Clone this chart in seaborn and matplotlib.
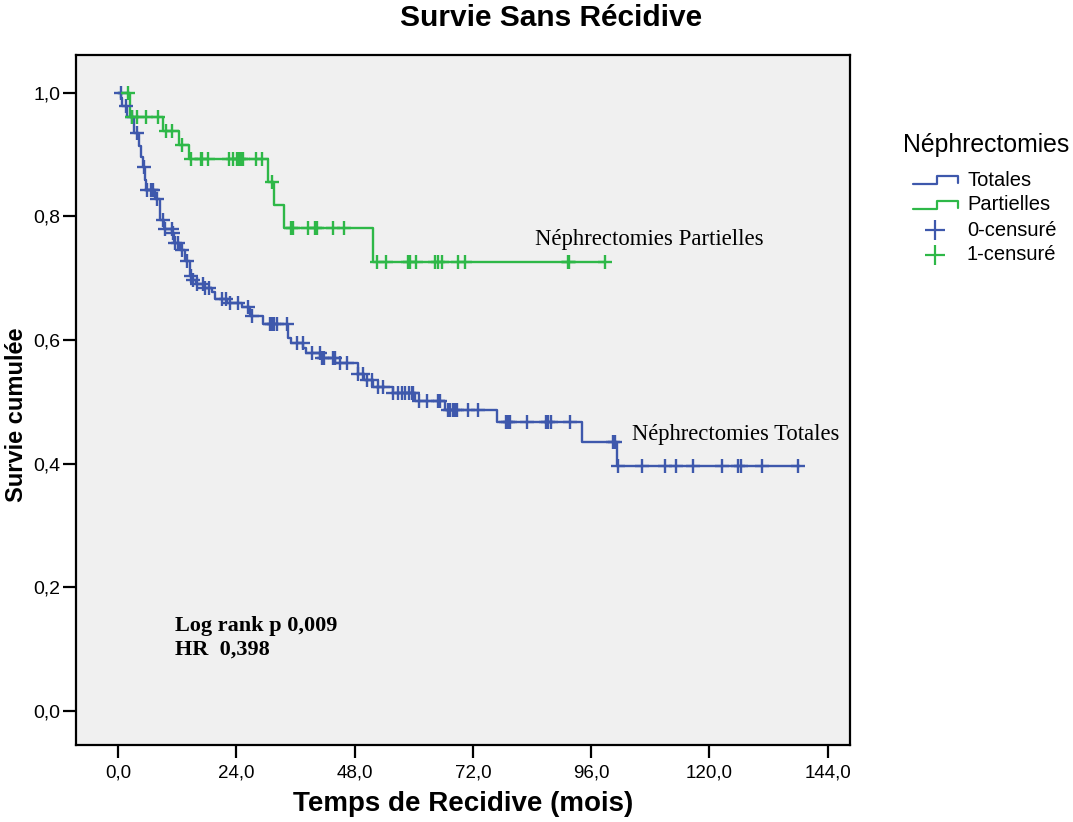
import numpy as np
import pandas as pd
import matplotlib
matplotlib.use("Agg")
import matplotlib.pyplot as plt
from matplotlib.lines import Line2D
from matplotlib import font_manager
import seaborn as sns

# ---------------- data ----------------
# Néphrectomies Totales : event times (months) and survival after each drop
totales_times = [0.61, 0.81, 1.93, 3.24, 4.26, 4.66, 5.07, 5.48, 5.78, 7.50,
                 8.52, 9.33, 11.05, 11.46, 12.57, 13.59, 14.60, 15.01, 15.82, 17.44,
                 19.06, 19.67, 22.11, 25.15, 26.77, 29.41, 34.58, 35.08, 37.62, 38.23,
                 41.07, 44.11, 48.67, 49.99, 51.71, 55.77, 60.23, 66.31, 76.86, 94.10,
                 101.20]
totales_surv = [0.992, 0.978, 0.960, 0.935, 0.914, 0.896, 0.880, 0.859, 0.843, 0.828,
                0.794, 0.780, 0.773, 0.757, 0.746, 0.728, 0.704, 0.697, 0.691, 0.684,
                0.677, 0.667, 0.660, 0.654, 0.639, 0.626, 0.604, 0.595, 0.587, 0.579,
                0.571, 0.563, 0.545, 0.536, 0.524, 0.515, 0.502, 0.487, 0.468, 0.435,
                0.396]
totales_end = 138.3
totales_censored = [0.55, 1.68, 2.84, 3.85, 5.20, 5.94, 6.63, 6.83, 7.16, 7.97,
                    9.19, 9.63, 10.89, 11.26, 11.66, 12.23, 12.92, 14.05, 14.74, 15.27,
                    16.08, 17.18, 17.64, 18.52, 21.03, 21.84, 22.71, 24.40, 26.42, 27.11,
                    30.83, 31.29, 31.64, 32.18, 34.21, 36.24, 37.46, 39.40, 40.97, 41.31,
                    41.78, 43.66, 44.01, 45.02, 46.50, 48.73, 49.62, 50.56, 51.45, 52.79,
                    53.68, 55.83, 56.84, 57.53, 58.20, 59.07, 59.56, 59.89, 61.10, 62.60,
                    64.83, 65.30, 66.98, 67.33, 67.88, 68.34, 68.81, 71.04, 73.07, 78.69,
                    79.16, 79.50, 83.01, 86.80, 87.27, 87.81, 91.67, 100.45, 100.80, 101.46,
                    106.21, 110.93, 113.16, 116.67, 122.55, 125.80, 126.49, 130.74, 137.96]

# Néphrectomies Partielles
partielles_times = [2.4, 9.2, 12.4, 14.5, 30.5, 31.6, 33.7, 51.7]
partielles_surv = [0.961, 0.9385, 0.915, 0.892, 0.8555, 0.818, 0.781, 0.7254]
partielles_end = 98.8
partielles_censored = [2.1, 2.8, 3.8, 5.6, 8.2, 9.7, 10.9, 12.9, 14.8, 16.8,
                       17.0, 18.2, 22.6, 23.3, 24.2, 24.6, 25.0, 25.3, 28.0, 29.3,
                       31.3, 35.1, 35.5, 38.6, 40.0, 40.3, 43.6, 45.8, 52.5, 54.3,
                       58.9, 59.2, 60.4, 64.3, 65.0, 65.8, 69.0, 70.4, 91.3, 91.6, 98.8]

x_ticks = [0, 24, 48, 72, 96, 120, 144]
x_tick_labels = ["0,0", "24,0", "48,0", "72,0", "96,0", "120,0", "144,0"]
y_ticks = [0.0, 0.2, 0.4, 0.6, 0.8, 1.0]
y_tick_labels = ["0,0", "0,2", "0,4", "0,6", "0,8", "1,0"]

legend_title = "Néphrectomies"
legend_labels = ["Totales", "Partielles", "0-censuré", "1-censuré"]

BLUE = "#3E58AC"
GREEN = "#2EB848"

# ---------------- style ----------------
sns.set_theme(style="white")
names = {f.name for f in font_manager.fontManager.ttflist}
SANS = "Liberation Sans" if "Liberation Sans" in names else "DejaVu Sans"
NARROW = "Liberation Sans Narrow" if "Liberation Sans Narrow" in names else SANS
SERIF = "Liberation Serif" if "Liberation Serif" in names else "DejaVu Serif"
plt.rcParams["font.family"] = [SANS, "DejaVu Sans"]
plt.rcParams["text.color"] = "black"
plt.rcParams["axes.labelcolor"] = "black"
plt.rcParams["xtick.color"] = "black"
plt.rcParams["ytick.color"] = "black"

W, H = 1073, 822
fig = plt.figure(figsize=(W / 100, H / 100), dpi=100)
fig.patch.set_facecolor("white")
L, R, T, B = 76, 850, 55, 745
ax = fig.add_axes([L / W, 1 - B / H, (R - L) / W, (B - T) / H])
ax.set_facecolor("#F0F0F0")


def km_frame(times, surv, end):
    t = [0.0] + list(times) + [end]
    s = [1.0] + list(surv) + [surv[-1]]
    return pd.DataFrame({"t": t, "s": s})


def censor_frame(times, surv, cens):
    t_arr = np.array([0.0] + list(times))
    s_arr = np.array([1.0] + list(surv))
    idx = np.searchsorted(t_arr, np.array(cens), side="right") - 1
    return pd.DataFrame({"t": cens, "s": s_arr[idx]})


df_tot = km_frame(totales_times, totales_surv, totales_end)
df_par = km_frame(partielles_times, partielles_surv, partielles_end)
cen_tot = censor_frame(totales_times, totales_surv, totales_censored)
cen_par = censor_frame(partielles_times, partielles_surv, partielles_censored)

sns.lineplot(data=df_tot, x="t", y="s", drawstyle="steps-post", color=BLUE,
             linewidth=1.7, estimator=None, sort=False, ax=ax, zorder=2)
sns.lineplot(data=df_par, x="t", y="s", drawstyle="steps-post", color=GREEN,
             linewidth=1.7, estimator=None, sort=False, ax=ax, zorder=2)
sns.scatterplot(data=cen_tot, x="t", y="s", marker="+", s=100, linewidth=1.7,
                color=BLUE, ax=ax, zorder=3, legend=False)
sns.scatterplot(data=cen_par, x="t", y="s", marker="+", s=100, linewidth=1.7,
                color=GREEN, ax=ax, zorder=3, legend=False)

# axes
ax.set_xlim(-8.5, 148.5)
ax.set_ylim(-0.055, 1.061)
ax.set_xticks(x_ticks)
ax.set_xticklabels(x_tick_labels, fontsize=13.5, family=[NARROW, "DejaVu Sans"])
ax.set_yticks(y_ticks)
ax.set_yticklabels(y_tick_labels, fontsize=14, family=[SANS, "DejaVu Sans"])
ax.tick_params(axis="both", direction="out", length=9.5, width=1.6, colors="black",
               bottom=True, left=True)
ax.tick_params(axis="y", pad=1.5)
ax.tick_params(axis="x", pad=4.5)
for sp in ax.spines.values():
    sp.set_visible(True)
    sp.set_color("black")
    sp.set_linewidth(1.6)
ax.grid(False)

ax.set_xlabel("Temps de Recidive (mois)", fontsize=20, fontweight="bold",
              family=[NARROW, "DejaVu Sans"])
ax.xaxis.set_label_coords(0.5, (B - 791) / (B - T))
ax.set_ylabel("Survie cumulée", fontsize=17, fontweight="bold",
              family=[SANS, "DejaVu Sans"])
ax.yaxis.set_label_coords((28 - L) / (R - L), (B - 415) / (B - T))

fig.text(551 / W, 1 - 18 / H, "Survie Sans Récidive", ha="center", va="center",
         fontsize=21.5, fontweight="bold", family=[SANS, "DejaVu Sans"])

# annotations
ax.text(84.6, 0.762, "Néphrectomies Partielles", fontsize=16.4, family=[SERIF, "DejaVu Serif"],
        ha="left", va="center")
ax.text(104.2, 0.448, "Néphrectomies Totales", fontsize=16.3, family=[SERIF, "DejaVu Serif"],
        ha="left", va="center")
ax.text(11.6, 0.137, "Log rank p 0,009", fontsize=16, fontweight="bold",
        family=[SERIF, "DejaVu Serif"], ha="left", va="center")
ax.text(11.6, 0.099, "HR  0,398", fontsize=16, fontweight="bold",
        family=[SERIF, "DejaVu Serif"], ha="left", va="center")

# legend (drawn in figure pixels)
def fx(px):
    return px / W


def fy(py):
    return 1 - py / H


fig.text(fx(903), fy(145), legend_title, fontsize=17.8, ha="left", va="center")
for py, col in [(180, BLUE), (205, GREEN)]:
    xs = [913, 937, 937, 958, 958]
    ys = [py + 4, py + 4, py - 4, py - 4, py + 3]
    fig.add_artist(Line2D([fx(v) for v in xs], [fy(v) for v in ys], color=col,
                          linewidth=1.6, transform=fig.transFigure))
for py, col in [(230, BLUE), (255, GREEN)]:
    fig.add_artist(Line2D([fx(935)], [fy(py)], marker="+", markersize=15,
                          markeredgewidth=1.6, color=col, linestyle="none",
                          transform=fig.transFigure))
for py, lab in zip([180, 205, 230, 255], legend_labels):
    fig.text(fx(967), fy(py), lab, fontsize=14.5, ha="left", va="center")

fig.savefig("out.png", dpi=100, facecolor="white")
